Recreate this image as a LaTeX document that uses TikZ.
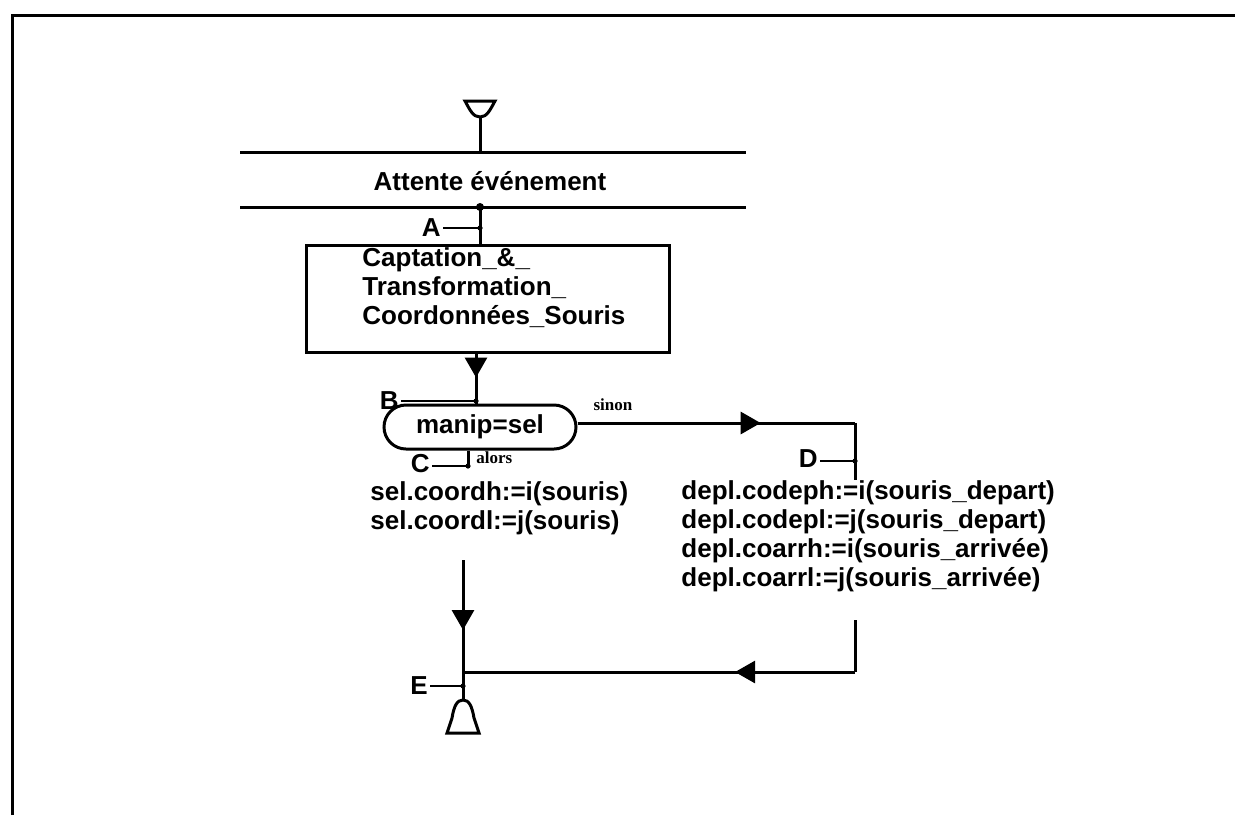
\documentclass[tikz,border=0pt]{standalone}
\usepackage{fontspec}
\setmainfont{Liberation Sans}
\newfontfamily\serifb{Liberation Serif}
\usetikzlibrary{decorations.markings,arrows.meta,shapes.misc}
\begin{document}
\begin{tikzpicture}[x=0.5pt,y=-0.5pt,
  ln/.style={line width=1.5pt},
  tick/.style={line width=1pt},
  txt/.style={font=\fontsize{13}{14.5}\selectfont\bfseries, inner sep=0pt, align=left},
  lab/.style={font=\fontsize{13}{14.5}\selectfont\bfseries, inner sep=0pt},
  small/.style={font=\serifb\fontsize{8.5}{9}\selectfont\bfseries, inner sep=0pt},
  jdot/.style={circle, fill, inner sep=0pt, minimum size=2.6pt},
  bigdot/.style={circle, fill, inner sep=0pt, minimum size=4pt},
  marrow/.style={decoration={markings, mark=at position #1 with {\arrow{Triangle[length=10pt,width=11pt]}}}, postaction={decorate}},
]
\useasboundingbox (0,0) rectangle (1235,815);
% frame
\draw[ln] (12,815) -- (12,15) -- (1235,15);

% start symbol
\coordinate (st) at (480,117);
\draw[ln] (465,101) -- (495,101) .. controls (490,110) and (487,117) .. (st) .. controls (473,117) and (470,110) .. (465,101) -- cycle;

% wait event band
\coordinate (l1) at (480,152);
\coordinate (l2) at (480,207);
\draw[ln] (240,152) -- (746,152);
\draw[ln] (240,207) -- (746,207);
\draw[ln] (st) -- (l1);
\node[lab] (att) at (490,181) {Attente événement};
\node[bigdot] (l2dot) at (l2) {};

% box
\node[draw, ln, minimum width=181.5pt, minimum height=53.5pt, inner sep=0pt] (cap) at (487.5,298.5) {};
\node[txt, anchor=west] (capt) at (362,288) {Captation\_\&\_\\Transformation\_\\Coordonnées\_Souris};

% A
\coordinate (A) at (480,228);
\draw[ln] (l2) -- (l2 |- cap.north);
\node[lab, anchor=east] (Alab) at (441,228) {A};
\draw[tick] (Alab.east) ++(2,0) -- (A);
\node[jdot] at (A) {};

% decision
\node[draw, ln, rounded rectangle, minimum width=96pt, minimum height=22pt, inner sep=0pt, font=\fontsize{13}{14.5}\selectfont\bfseries] (dec) at (480,427) {manip=sel};

% B
\coordinate (B) at (476,401);
\draw[ln, marrow=0.48] (B |- cap.south) -- (B |- dec.north);
\node[lab, anchor=east] (Blab) at (399,401) {B};
\draw[tick] (Blab.east) ++(2,0) -- (B);
\node[jdot] at (B) {};

% sinon branch
\coordinate (Dc) at (855,423);
\coordinate (D) at (855,461);
\node[small] (sinon) at (613,405) {sinon};
\draw[ln, marrow=0.66] (dec.east |- Dc) -- (Dc);
\node[txt, anchor=west] (deplt) at (681,536.5) {depl.codeph:=i(souris\_depart)\\depl.codepl:=j(souris\_depart)\\depl.coarrh:=i(souris\_arrivée)\\depl.coarrl:=j(souris\_arrivée)};
\draw[ln] (Dc) -- (D) -- (855,480);
\node[lab, anchor=east] (Dlab) at (818,459) {D};
\draw[tick] (Dlab.east) ++(2,2) -- (D);
\node[jdot] at (D) {};

% alors branch
\coordinate (C) at (468,466);
\node[small, anchor=west] (alors) at (476,458) {alors};
\draw[ln] (C |- dec.south) -- (C);
\node[lab, anchor=east] (Clab) at (430,464) {C};
\draw[tick] (Clab.east) ++(2,2) -- (C);
\node[jdot] at (C) {};
\node[txt, anchor=west] (selt) at (370,508) {sel.coordh:=i(souris)\\sel.coordl:=j(souris)};

% join
\coordinate (L0) at (463,560);
\coordinate (J) at (463,672);
\coordinate (E) at (463,686);
\coordinate (R0) at (855,620);
\coordinate (Rc) at (855,672);
\coordinate (en) at (463,700);
\draw[ln, marrow=0.625] (L0) -- (J);
\draw[ln] (J) -- (E) -- (en);
\draw[ln] (R0) -- (Rc);
\draw[ln, marrow=0.306] (Rc) -- (J);
\node[lab, anchor=east] (Elab) at (428,686) {E};
\draw[tick] (Elab.east) ++(2,0) -- (E);
\node[jdot] at (E) {};

% end symbol
\draw[ln] (447,733) -- (479,733) -- (474,718) .. controls (472,706) and (469,700) .. (en) .. controls (457,700) and (454,706) .. (452,718) -- cycle;
\end{tikzpicture}
\end{document}
